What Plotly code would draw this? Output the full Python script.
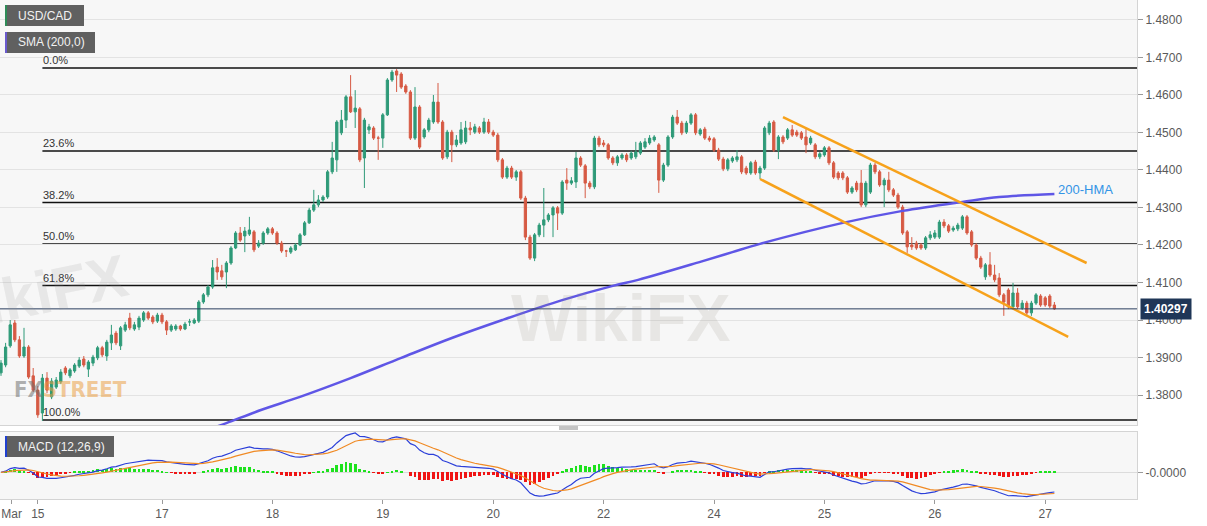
import plotly.graph_objects as go
import pandas as pd

# ---------------- data (hourly USD/CAD candles) ----------------
opens = [
 1.3859, 1.3880, 1.3931, 1.3992, 1.3947, 1.3904, 1.3928, 1.3851, 1.3813, 1.3752,
 1.3845, 1.3795, 1.3821, 1.3835, 1.3872, 1.3851, 1.3864, 1.3877, 1.3896, 1.3869,
 1.3885, 1.3899, 1.3926, 1.3904, 1.3939, 1.3965, 1.3931, 1.3973, 1.4005, 1.3976,
 1.3981, 1.4000, 1.4019, 1.4008, 1.3997, 1.4013, 1.3995, 1.3973, 1.3976, 1.3984,
 1.3976, 1.3995, 1.3992, 1.3997, 1.4048, 1.4067, 1.4088, 1.4141, 1.4131, 1.4128,
 1.4152, 1.4192, 1.4232, 1.4224, 1.4229, 1.4235, 1.4197, 1.4205, 1.4232, 1.4243,
 1.4232, 1.4205, 1.4184, 1.4181, 1.4187, 1.4200, 1.4227, 1.4259, 1.4293, 1.4307,
 1.4320, 1.4328, 1.4395, 1.4427, 1.4499, 1.4533, 1.4595, 1.4555, 1.4563, 1.4432,
 1.4507, 1.4512, 1.4485, 1.4485, 1.4547, 1.4640, 1.4664, 1.4656, 1.4624, 1.4608,
 1.4485, 1.4568, 1.4488, 1.4507, 1.4528, 1.4581, 1.4528, 1.4435, 1.4501, 1.4467,
 1.4472, 1.4475, 1.4512, 1.4501, 1.4512, 1.4501, 1.4528, 1.4501, 1.4493, 1.4427,
 1.4381, 1.4405, 1.4381, 1.4395, 1.4325, 1.4221, 1.4165, 1.4227, 1.4253, 1.4267,
 1.4280, 1.4299, 1.4285, 1.4373, 1.4365, 1.4368, 1.4432, 1.4411, 1.4365, 1.4355,
 1.4485, 1.4472, 1.4467, 1.4432, 1.4419, 1.4432, 1.4440, 1.4432, 1.4435, 1.4445,
 1.4461, 1.4472, 1.4480, 1.4467, 1.4373, 1.4413, 1.4488, 1.4541, 1.4525, 1.4501,
 1.4525, 1.4547, 1.4496, 1.4509, 1.4485, 1.4483, 1.4453, 1.4429, 1.4403, 1.4424,
 1.4427, 1.4435, 1.4405, 1.4392, 1.4421, 1.4392, 1.4405, 1.4499, 1.4528, 1.4453,
 1.4488, 1.4485, 1.4507, 1.4501, 1.4499, 1.4488, 1.4472, 1.4467, 1.4435, 1.4440,
 1.4459, 1.4419, 1.4392, 1.4392, 1.4379, 1.4341, 1.4365, 1.4365, 1.4307, 1.4341,
 1.4413, 1.4395, 1.4360, 1.4373, 1.4347, 1.4333, 1.4301, 1.4235, 1.4200, 1.4205,
 1.4200, 1.4192, 1.4219, 1.4221, 1.4221, 1.4261, 1.4251, 1.4240, 1.4243, 1.4245,
 1.4275, 1.4235, 1.4200, 1.4165, 1.4115, 1.4147, 1.4120, 1.4112, 1.4067, 1.4080,
 1.4035, 1.4072, 1.4032, 1.4045, 1.4019, 1.4045, 1.4064, 1.4059, 1.4064, 1.4040,
]
highs = [
 1.3893, 1.3939, 1.4000, 1.4000, 1.3957, 1.3979, 1.3933, 1.3872, 1.3824, 1.3856,
 1.3861, 1.3845, 1.3848, 1.3869, 1.3877, 1.3872, 1.3885, 1.3901, 1.3904, 1.3893,
 1.3907, 1.3931, 1.3931, 1.3947, 1.3987, 1.3971, 1.3984, 1.3995, 1.4019, 1.3995,
 1.4011, 1.4024, 1.4024, 1.4013, 1.4019, 1.4019, 1.4000, 1.3989, 1.3989, 1.3987,
 1.3995, 1.4003, 1.4005, 1.4053, 1.4072, 1.4093, 1.4160, 1.4165, 1.4147, 1.4157,
 1.4197, 1.4237, 1.4248, 1.4248, 1.4275, 1.4240, 1.4213, 1.4237, 1.4248, 1.4248,
 1.4237, 1.4211, 1.4187, 1.4197, 1.4205, 1.4232, 1.4264, 1.4299, 1.4347, 1.4333,
 1.4333, 1.4400, 1.4475, 1.4533, 1.4560, 1.4600, 1.4653, 1.4613, 1.4568, 1.4539,
 1.4523, 1.4517, 1.4491, 1.4552, 1.4645, 1.4667, 1.4669, 1.4661, 1.4629, 1.4613,
 1.4621, 1.4573, 1.4512, 1.4539, 1.4600, 1.4632, 1.4533, 1.4507, 1.4507, 1.4493,
 1.4528, 1.4531, 1.4528, 1.4523, 1.4517, 1.4539, 1.4536, 1.4507, 1.4499, 1.4432,
 1.4411, 1.4411, 1.4400, 1.4400, 1.4331, 1.4227, 1.4232, 1.4259, 1.4352, 1.4285,
 1.4304, 1.4304, 1.4373, 1.4405, 1.4381, 1.4448, 1.4437, 1.4416, 1.4371, 1.4491,
 1.4491, 1.4480, 1.4472, 1.4437, 1.4440, 1.4445, 1.4445, 1.4451, 1.4475, 1.4477,
 1.4485, 1.4493, 1.4493, 1.4472, 1.4419, 1.4493, 1.4547, 1.4560, 1.4531, 1.4531,
 1.4552, 1.4552, 1.4512, 1.4515, 1.4491, 1.4488, 1.4459, 1.4435, 1.4432, 1.4437,
 1.4453, 1.4440, 1.4411, 1.4424, 1.4427, 1.4411, 1.4517, 1.4531, 1.4533, 1.4493,
 1.4493, 1.4512, 1.4520, 1.4507, 1.4504, 1.4509, 1.4491, 1.4472, 1.4448, 1.4464,
 1.4464, 1.4424, 1.4397, 1.4397, 1.4384, 1.4357, 1.4371, 1.4400, 1.4371, 1.4419,
 1.4419, 1.4400, 1.4379, 1.4395, 1.4352, 1.4339, 1.4307, 1.4240, 1.4221, 1.4211,
 1.4205, 1.4224, 1.4237, 1.4240, 1.4267, 1.4269, 1.4256, 1.4251, 1.4259, 1.4280,
 1.4280, 1.4240, 1.4205, 1.4171, 1.4152, 1.4181, 1.4147, 1.4125, 1.4072, 1.4085,
 1.4099, 1.4085, 1.4053, 1.4051, 1.4051, 1.4072, 1.4069, 1.4064, 1.4069, 1.4048,
]
lows = [
 1.3851, 1.3874, 1.3926, 1.3941, 1.3899, 1.3899, 1.3843, 1.3808, 1.3739, 1.3731,
 1.3805, 1.3789, 1.3816, 1.3829, 1.3853, 1.3845, 1.3859, 1.3872, 1.3874, 1.3848,
 1.3877, 1.3893, 1.3901, 1.3891, 1.3920, 1.3933, 1.3920, 1.3968, 1.3973, 1.3971,
 1.3973, 1.3995, 1.4000, 1.3989, 1.3992, 1.3989, 1.3960, 1.3968, 1.3971, 1.3971,
 1.3973, 1.3984, 1.3989, 1.3992, 1.4043, 1.4061, 1.4083, 1.4107, 1.4107, 1.4085,
 1.4147, 1.4189, 1.4208, 1.4181, 1.4224, 1.4181, 1.4192, 1.4200, 1.4227, 1.4227,
 1.4200, 1.4179, 1.4168, 1.4176, 1.4184, 1.4197, 1.4224, 1.4256, 1.4288, 1.4301,
 1.4315, 1.4323, 1.4389, 1.4395, 1.4493, 1.4512, 1.4552, 1.4512, 1.4421, 1.4352,
 1.4496, 1.4480, 1.4427, 1.4459, 1.4544, 1.4635, 1.4608, 1.4616, 1.4603, 1.4480,
 1.4480, 1.4456, 1.4483, 1.4501, 1.4523, 1.4523, 1.4427, 1.4429, 1.4421, 1.4461,
 1.4467, 1.4469, 1.4493, 1.4496, 1.4496, 1.4496, 1.4496, 1.4488, 1.4421, 1.4376,
 1.4376, 1.4376, 1.4371, 1.4320, 1.4213, 1.4160, 1.4157, 1.4221, 1.4221, 1.4261,
 1.4221, 1.4240, 1.4280, 1.4347, 1.4360, 1.4352, 1.4408, 1.4325, 1.4349, 1.4349,
 1.4461, 1.4461, 1.4427, 1.4413, 1.4411, 1.4427, 1.4421, 1.4427, 1.4429, 1.4440,
 1.4456, 1.4467, 1.4475, 1.4339, 1.4368, 1.4408, 1.4483, 1.4520, 1.4493, 1.4496,
 1.4520, 1.4493, 1.4491, 1.4480, 1.4475, 1.4448, 1.4424, 1.4397, 1.4397, 1.4419,
 1.4421, 1.4389, 1.4387, 1.4387, 1.4387, 1.4376, 1.4400, 1.4493, 1.4448, 1.4429,
 1.4469, 1.4480, 1.4488, 1.4488, 1.4480, 1.4445, 1.4467, 1.4429, 1.4429, 1.4435,
 1.4413, 1.4376, 1.4373, 1.4373, 1.4336, 1.4336, 1.4341, 1.4301, 1.4301, 1.4336,
 1.4389, 1.4355, 1.4301, 1.4341, 1.4328, 1.4296, 1.4227, 1.4179, 1.4187, 1.4187,
 1.4187, 1.4187, 1.4213, 1.4216, 1.4216, 1.4245, 1.4232, 1.4235, 1.4237, 1.4240,
 1.4227, 1.4195, 1.4160, 1.4136, 1.4107, 1.4115, 1.4101, 1.4061, 1.4011, 1.4029,
 1.4029, 1.4029, 1.4027, 1.4013, 1.4011, 1.4040, 1.4035, 1.4035, 1.4032, 1.4027,
]
closes = [
 1.3885, 1.3928, 1.3987, 1.3947, 1.3904, 1.3928, 1.3848, 1.3813, 1.3747, 1.3845,
 1.3813, 1.3837, 1.3840, 1.3861, 1.3859, 1.3867, 1.3880, 1.3893, 1.3880, 1.3888,
 1.3901, 1.3926, 1.3907, 1.3941, 1.3960, 1.3939, 1.3979, 1.3987, 1.3979, 1.3987,
 1.4005, 1.4019, 1.4005, 1.3995, 1.4013, 1.3995, 1.3973, 1.3984, 1.3984, 1.3976,
 1.3989, 1.3995, 1.4000, 1.4048, 1.4067, 1.4088, 1.4139, 1.4128, 1.4115, 1.4152,
 1.4192, 1.4232, 1.4213, 1.4237, 1.4240, 1.4187, 1.4205, 1.4232, 1.4243, 1.4232,
 1.4205, 1.4184, 1.4184, 1.4192, 1.4200, 1.4227, 1.4259, 1.4293, 1.4307, 1.4320,
 1.4328, 1.4395, 1.4432, 1.4528, 1.4533, 1.4595, 1.4555, 1.4565, 1.4427, 1.4533,
 1.4515, 1.4485, 1.4485, 1.4547, 1.4640, 1.4661, 1.4653, 1.4621, 1.4608, 1.4485,
 1.4568, 1.4461, 1.4507, 1.4533, 1.4581, 1.4528, 1.4432, 1.4501, 1.4467, 1.4480,
 1.4507, 1.4512, 1.4507, 1.4515, 1.4501, 1.4528, 1.4501, 1.4493, 1.4427, 1.4381,
 1.4405, 1.4381, 1.4395, 1.4325, 1.4221, 1.4165, 1.4227, 1.4253, 1.4267, 1.4280,
 1.4299, 1.4285, 1.4368, 1.4365, 1.4371, 1.4432, 1.4413, 1.4365, 1.4355, 1.4485,
 1.4467, 1.4467, 1.4432, 1.4419, 1.4435, 1.4440, 1.4427, 1.4445, 1.4448, 1.4472,
 1.4475, 1.4485, 1.4488, 1.4373, 1.4413, 1.4488, 1.4541, 1.4525, 1.4499, 1.4525,
 1.4547, 1.4499, 1.4507, 1.4485, 1.4480, 1.4453, 1.4429, 1.4403, 1.4427, 1.4432,
 1.4435, 1.4395, 1.4392, 1.4419, 1.4392, 1.4405, 1.4512, 1.4525, 1.4453, 1.4488,
 1.4475, 1.4507, 1.4493, 1.4493, 1.4485, 1.4467, 1.4485, 1.4435, 1.4443, 1.4459,
 1.4419, 1.4381, 1.4379, 1.4379, 1.4341, 1.4352, 1.4347, 1.4307, 1.4365, 1.4413,
 1.4395, 1.4360, 1.4373, 1.4347, 1.4333, 1.4301, 1.4232, 1.4195, 1.4195, 1.4192,
 1.4192, 1.4219, 1.4227, 1.4232, 1.4261, 1.4251, 1.4237, 1.4245, 1.4253, 1.4275,
 1.4232, 1.4200, 1.4165, 1.4141, 1.4147, 1.4120, 1.4107, 1.4067, 1.4048, 1.4035,
 1.4072, 1.4035, 1.4045, 1.4019, 1.4045, 1.4067, 1.4040, 1.4040, 1.4037, 1.40297,
]

# 200-period moving average (read at sample candles)
sma_idx = [46, 49, 56.5, 65, 76, 87, 98, 109, 122, 133, 138.5, 152, 159, 165, 183, 196, 209, 217, 229]
sma_val = [1.3712, 1.3725, 1.3760, 1.3795, 1.3845, 1.3899, 1.3952, 1.4000, 1.4053, 1.4091,
           1.4107, 1.4155, 1.4181, 1.4203, 1.4259, 1.4291, 1.4315, 1.4328, 1.4336]

# falling channel (candle index, price)
chan_upper_idx = [170, 236]
chan_upper_val = [1.4541, 1.4152]
chan_lower_idx = [165, 232]
chan_lower_val = [1.4376, 1.3955]

# Fibonacci retracement
fib_high = 1.4672
fib_low = 1.3733
fib_start_idx = 9
fib_ratios = [0.0, 0.236, 0.382, 0.5, 0.618, 1.0]
fib_labels = ["0.0%", "23.6%", "38.2%", "50.0%", "61.8%", "100.0%"]

last_price = 1.40297

# axis ticks
price_ticks = [1.38, 1.39, 1.40, 1.41, 1.42, 1.43, 1.44, 1.45, 1.46, 1.47, 1.48]
date_tick_idx = [2.3, 8, 35, 59, 83, 107, 131, 155, 179, 203, 227]
date_tick_labels = ["Mar", "15", "17", "18", "19", "20", "22", "24", "25", "26", "27"]

# ---------------- derived ----------------
idx = list(range(len(closes)))
s = pd.Series(closes)
ema12 = s.ewm(span=12, adjust=False).mean()
ema26 = s.ewm(span=26, adjust=False).mean()
macd = ema12 - ema26
signal = macd.ewm(span=9, adjust=False).mean()
hist = macd - signal
hist_colors = ["#1ee21e" if v >= 0 else "#f01414" for v in hist]

W, H = 1207, 526
ML, MR, MT, MB = 0, 70, 0, 26
PW, PH = W - ML - MR, H - MT - MB
PX_PER_CANDLE = 4.6
x0 = -1 / PX_PER_CANDLE
x1 = x0 + PW / PX_PER_CANDLE

def fx(px):
    return px / PW

def fy(py):
    return 1 - py / PH

FONT = "Liberation Sans, Arial, sans-serif"

fig = go.Figure()

fig.add_trace(go.Candlestick(
    x=idx, open=opens, high=highs, low=lows, close=closes,
    increasing=dict(line=dict(color="#2e9a78", width=1), fillcolor="#2e9a78"),
    decreasing=dict(line=dict(color="#d65a44", width=1), fillcolor="#d65a44"),
    whiskerwidth=0, xaxis="x", yaxis="y", showlegend=False, hoverinfo="skip",
))

fig.add_trace(go.Scatter(
    x=sma_idx, y=sma_val, mode="lines", line=dict(color="#5f56e6", width=2.5, shape="spline"),
    xaxis="x", yaxis="y", showlegend=False, hoverinfo="skip",
))

for ci, cv in ((chan_upper_idx, chan_upper_val), (chan_lower_idx, chan_lower_val)):
    fig.add_trace(go.Scatter(
        x=ci, y=cv, mode="lines", line=dict(color="#f7a21b", width=2.5),
        xaxis="x", yaxis="y", showlegend=False, hoverinfo="skip",
    ))

# MACD pane
fig.add_trace(go.Bar(
    x=idx, y=hist, marker=dict(color=hist_colors, line=dict(width=0)), width=0.6,
    xaxis="x2", yaxis="y2", showlegend=False, hoverinfo="skip",
))
fig.add_trace(go.Scatter(
    x=idx, y=macd, mode="lines", line=dict(color="#2b3fd9", width=1.2),
    xaxis="x2", yaxis="y2", showlegend=False, hoverinfo="skip",
))
fig.add_trace(go.Scatter(
    x=idx, y=signal, mode="lines", line=dict(color="#f08a24", width=1.2),
    xaxis="x2", yaxis="y2", showlegend=False, hoverinfo="skip",
))

mx = float(max(macd.max(), signal.max()))
macd_range = [-mx * 27 / 40, mx * 41 / 40]

shapes = []
annotations = []

# Fibonacci lines and labels
rng = fib_high - fib_low
for r, lab in zip(fib_ratios, fib_labels):
    lvl = fib_high - r * rng
    shapes.append(dict(type="line", xref="x", yref="y", x0=fib_start_idx, x1=x1,
                       y0=lvl, y1=lvl, line=dict(color="#111111", width=1.5), layer="below"))
    annotations.append(dict(xref="x", yref="y", x=fib_start_idx, y=lvl, text=lab,
                            xanchor="left", yanchor="bottom", showarrow=False,
                            font=dict(family=FONT, size=11, color="#333333"), borderpad=0, yshift=1))

# last price line and label
shapes.append(dict(type="line", xref="x", yref="y", x0=x0, x1=x1, y0=last_price, y1=last_price,
                   line=dict(color="#2a3d5e", width=1)))
annotations.append(dict(xref="paper", yref="y", x=1, y=last_price, text="<b>%.5f</b>" % last_price,
                        xanchor="left", yanchor="middle", showarrow=False, xshift=3,
                        bgcolor="#1f3657", borderpad=3,
                        font=dict(family=FONT, size=12, color="white")))

# 200-HMA label
annotations.append(dict(xref="x", yref="y", x=sma_idx[-1] + 0.3, y=sma_val[-1] + 0.0012,
                        text="200-HMA", xanchor="left", yanchor="middle", showarrow=False,
                        font=dict(family=FONT, size=13, color="#3394e6")))

# indicator legend boxes
for (bx0, by0, bx1, by1, accent, txt) in [
        (5, 5, 84, 26, "#2e8b57", "USD/CAD"),
        (5, 32, 95, 53, "#6a5acd", "SMA (200,0)"),
        (5, 436, 114, 457, "#2040d0", "MACD (12,26,9)")]:
    shapes.append(dict(type="rect", xref="paper", yref="paper", x0=fx(bx0), x1=fx(bx1),
                       y0=fy(by1), y1=fy(by0), fillcolor="#606060", line=dict(width=0)))
    shapes.append(dict(type="rect", xref="paper", yref="paper", x0=fx(bx0), x1=fx(bx0 + 2),
                       y0=fy(by1), y1=fy(by0), fillcolor=accent, line=dict(width=0)))
    annotations.append(dict(xref="paper", yref="paper", x=fx(bx0 + 11), y=fy((by0 + by1) / 2),
                            text=txt, xanchor="left", yanchor="middle", showarrow=False,
                            font=dict(family=FONT, size=12, color="#f2f2f2")))

# pane divider handle
for hy in (427, 429):
    shapes.append(dict(type="line", xref="paper", yref="paper", x0=fx(559), x1=fx(578),
                       y0=fy(hy), y1=fy(hy), line=dict(color="#888888", width=1)))

# watermarks
annotations.append(dict(xref="paper", yref="paper", x=fx(70), y=fy(389),
                        text='<b><span style="color:rgba(110,110,110,0.55)">FX</span>'
                             '<span style="color:rgba(235,160,70,0.55)">STREET</span></b>',
                        showarrow=False, xanchor="center", yanchor="middle",
                        font=dict(family="Liberation Sans Narrow, DejaVu Sans Condensed, sans-serif",
                                  size=22)))
annotations.append(dict(xref="paper", yref="paper", x=fx(620), y=fy(318), text="<b>WikiFX</b>",
                        showarrow=False, xanchor="center", yanchor="middle",
                        font=dict(family=FONT, size=66, color="rgba(150,140,130,0.16)")))
annotations.append(dict(xref="paper", yref="paper", x=fx(135), y=fy(295), text="<b>WikiFX</b>",
                        showarrow=False, xanchor="right", yanchor="middle", textangle=-12,
                        font=dict(family=FONT, size=60, color="rgba(150,150,150,0.16)")))

axis_common = dict(showline=True, mirror=True, linecolor="#d4d4d4", linewidth=1, zeroline=False)

fig.update_layout(
    width=W, height=H,
    margin=dict(l=ML, r=MR, t=MT, b=MB),
    paper_bgcolor="white", plot_bgcolor="#f7f7f7",
    showlegend=False, bargap=0, hovermode=False,
    boxgap=0.3,
    xaxis=dict(domain=[0, 1], anchor="y", range=[x0, x1], showticklabels=False, showgrid=False,
               rangeslider=dict(visible=False), ticks="", **axis_common),
    yaxis=dict(domain=[0.15, 1], anchor="x", side="right", range=[1.372, 1.48533],
               tickvals=price_ticks, ticktext=["%.4f" % v for v in price_ticks],
               showgrid=True, gridcolor="#e3e3e3", ticks="outside", ticklen=5, tickcolor="#9a9a9a",
               tickfont=dict(family=FONT, size=12, color="#5a5a5a"), **axis_common),
    xaxis2=dict(domain=[0, 1], anchor="y2", range=[x0, x1], showgrid=False,
                tickvals=date_tick_idx, ticktext=date_tick_labels, ticks="outside", ticklen=4,
                tickcolor="#9a9a9a", tickfont=dict(family=FONT, size=12, color="#5a5a5a"),
                ticklabeloverflow="allow", **axis_common),
    yaxis2=dict(domain=[0.002, 0.136], anchor="x2", side="right", range=macd_range,
                tickvals=[0], ticktext=["-0.0000"], showgrid=True, gridcolor="#dcdcdc",
                ticks="outside", ticklen=5, tickcolor="#9a9a9a",
                tickfont=dict(family=FONT, size=12, color="#5a5a5a"), **axis_common),
    shapes=shapes, annotations=annotations,
)

fig.write_html(
    "out.html",
    config={"displayModeBar": False},
    post_script="document.body.style.margin='0px';document.body.style.overflow='hidden';",
)
